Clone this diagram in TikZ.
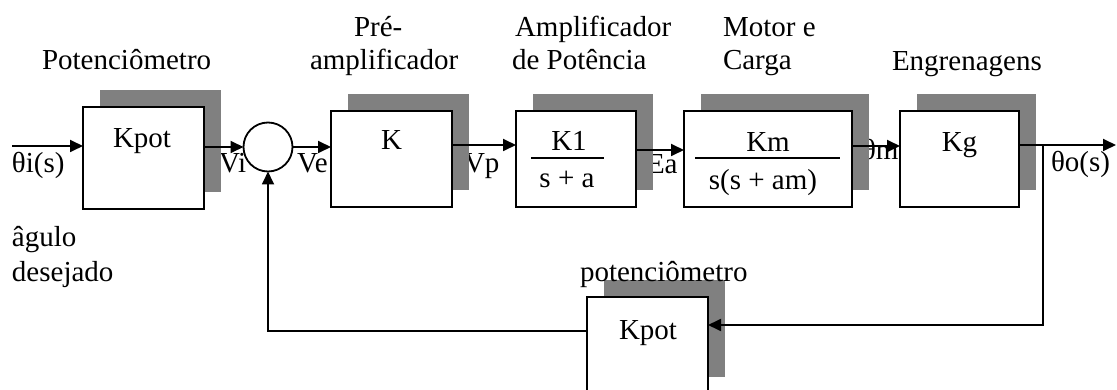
\documentclass[tikz,border=0pt]{standalone}
\usepackage{fontspec}
\setmainfont{Liberation Serif}
\usetikzlibrary{arrows.meta,shadows}
\begin{document}
\begin{tikzpicture}[x=1pt,y=-1pt,
  every node/.style={font=\fontsize{29}{33}\selectfont, inner sep=0pt, outer sep=0pt},
  txt/.style={anchor=base west},
  ctxt/.style={anchor=base},
  blk/.style={rectangle, draw=black, fill=white, line width=1.8pt,
    drop shadow={shadow xshift=16.5pt, shadow yshift=16.5pt, fill=black!50, opacity=1}},
  sumc/.style={circle, draw=black, fill=white, line width=1.8pt, minimum size=49pt},
  conn/.style={line width=1.8pt},
  arr/.style={conn, -{Triangle[length=13pt,width=12pt]}},
  fracline/.style={line width=1.8pt}]
\clip (0,0) rectangle (1117,390);

% top titles
\node[txt] (t1) at (42,70) {Potenciômetro};
\node[txt] (t2a) at (354,37) {Pré-};
\node[txt] (t2b) at (310,70) {amplificador};
\node[txt] (t3a) at (515,37) {Amplificador};
\node[txt] (t3b) at (512,70) {de Potência};
\node[txt] (t4a) at (723,37) {Motor e};
\node[txt] (t4b) at (723,70) {Carga};
\node[txt] (t5) at (892,71) {Engrenagens};
\node[txt] (d1) at (12,247) {âgulo};
\node[txt] (d2) at (12,282) {desejado};

% signal labels (partly covered by shadows and boxes)
\node[txt] (lti) at (12,173) {θi(s)};
\node[txt] (lvi) at (219,173) {Vi};
\node[txt] (lve) at (297,173) {Ve};
\node[txt] (lvp) at (464,173) {Vp};
\node[txt] (lea) at (647,174) {Ea};
\node[txt] (ltm) at (862,160) {θm};
\node[txt] (lto) at (1051,172) {θo(s)};

% blocks
\node[blk, minimum width=121pt, minimum height=102pt] (b1) at (143.5,158) {};
\node[sumc] (sum) at (268,147) {};
\node[blk, minimum width=121pt, minimum height=96pt] (k) at (391.5,159) {};
\node[blk, minimum width=120pt, minimum height=96pt] (k1) at (576,159) {};
\node[blk, minimum width=168pt, minimum height=96pt] (km) at (768,159) {};
\node[blk, minimum width=119pt, minimum height=96pt] (kg) at (959.5,159) {};
\node[blk, minimum width=121pt, minimum height=96pt] (fb) at (647.5,345) {};

% block contents
\node[ctxt] (b1t) at (142,148) {Kpot};
\node[ctxt] (kt) at (391.5,150) {K};
\node[ctxt] (k1n) at (569,151) {K1};
\node[ctxt] (k1d) at (567,188) {s + a};
\coordinate (k1l) at (531,158);
\coordinate (k1r) at (604,158);
\draw[fracline] (k1l) -- (k1r);
\node[ctxt] (kmn) at (768,152) {Km};
\node[ctxt] (kmd) at (763,190) {s(s + am)};
\coordinate (kml) at (695,158);
\coordinate (kmr) at (840,158);
\draw[fracline] (kml) -- (kmr);
\node[ctxt] (kgt) at (959.5,152) {Kg};
\node[ctxt] (fbt) at (648,339) {Kpot};
\node[txt] (fbl) at (580,282) {potenciômetro};

% connectors
\coordinate (in) at (12,146);
\coordinate (out) at (1116,145);
\coordinate (br) at (1043,145);
\coordinate (brd) at (1043,325);
\draw[arr] (in) -- (in -| b1.west);
\draw[arr] (b1.east |- sum) -- (sum.west);
\draw[arr] (sum.east) -- (sum.east -| k.west);
\draw[arr] ([yshift=14pt]k.east) -- ([yshift=14pt]k.east -| k1.west);
\draw[arr] ([yshift=9pt]k1.east) -- ([yshift=9pt]k1.east -| km.west);
\draw[arr] ([yshift=13pt]km.east) -- ([yshift=13pt]km.east -| kg.west);
\draw[arr] ([yshift=14pt]kg.east) -- (out);
\draw[arr] (br) -- (brd) -- (brd -| fb.east);
\draw[arr] ([yshift=14pt]fb.west) -| (sum.south);
\end{tikzpicture}
\end{document}
